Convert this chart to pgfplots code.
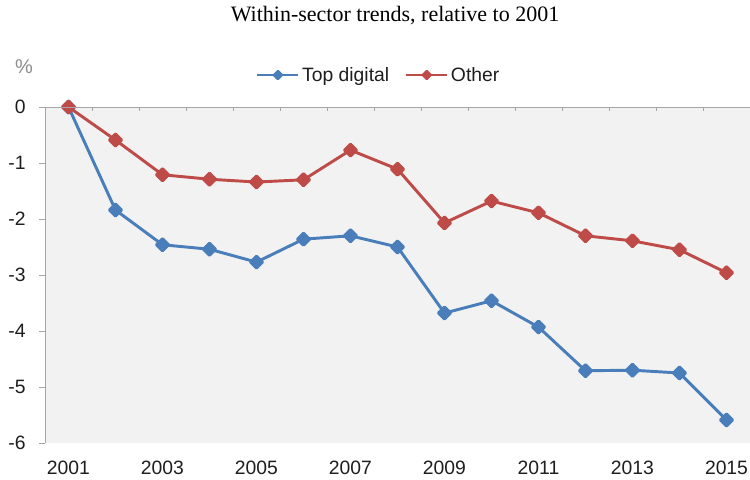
\documentclass[border=0pt]{standalone}
\usepackage{fontspec}
\setmainfont{Liberation Serif}
\newfontfamily\arialfont{Liberation Sans}
\usepackage{pgfplots}
\pgfplotsset{compat=1.18}
\definecolor{cblue}{HTML}{4A7EBB}
\definecolor{cred}{HTML}{BE4B48}
\definecolor{bggray}{HTML}{F2F2F2}
\definecolor{axgray}{HTML}{A6A6A6}
\definecolor{txtgray}{HTML}{1E1E1E}
\definecolor{pctgray}{HTML}{8C8C8C}
\begin{document}
\begin{tikzpicture}
\path[use as bounding box] (-33.75pt,-27pt) rectangle (528.75pt,332.25pt);
\begin{axis}[
  at={(0,0)}, anchor=south west,
  scale only axis, width=528.75pt, height=252pt,
  xmin=2000.5, xmax=2015.5, ymin=-6, ymax=0,
  clip=false,
  axis background/.style={fill=bggray},
  axis line style={draw=none},
  xtick={2001,2003,...,2015},
  ytick={-6,-5,...,0},
  x tick style={draw=none},
  y tick style={draw=axgray, line width=0.6pt},
  tick align=outside,
  major tick length=4.5pt,
  xtick pos=lower, ytick pos=left,
  /pgf/number format/1000 sep={},
  /pgf/number format/assume math mode=true,
  tick label style={font=\arialfont\fontsize{14.5}{16}\selectfont, text=txtgray},
  xticklabel style={yshift=-5.5pt},
  yticklabel style={xshift=-6.5pt},
  title={Within-sector trends, relative to 2001},
  title style={font=\fontsize{16.5}{18}\selectfont, at={(rel axis cs:0.4965,1.2293)}, anchor=base},
  legend style={draw=none, fill=none, at={(rel axis cs:0.474,1.0952)}, anchor=center,
    font=\arialfont\fontsize{14.5}{16}\selectfont, text=txtgray,
    /tikz/every even column/.append style={column sep=10pt}},
  legend columns=2,
  legend image code/.code={\draw[mark repeat=2, mark phase=2, line width=1.6pt, mark size=2.2pt] plot coordinates {(0cm,0cm)(0.54cm,0cm)(1.08cm,0cm)};},
  extra description/.code={
    \draw[axgray, line width=0.7pt] (rel axis cs:0,0) -- (rel axis cs:0,1) -- (rel axis cs:1,1);
    \foreach \i in {1,...,14} \draw[axgray, line width=0.6pt] (rel axis cs:\i/15,1) -- ++(0,-3pt);
    \node[font=\arialfont\fontsize{15}{16}\selectfont, text=pctgray] at (rel axis cs:-0.0298,1.119) {\%};
  },
]
\addplot[cblue, line width=2.2pt, line join=round, mark=square*, mark size=3.2pt, mark options={rotate=45, solid}] coordinates {
(2001,0) (2002,-1.84) (2003,-2.46) (2004,-2.54) (2005,-2.77) (2006,-2.36) (2007,-2.30) (2008,-2.50)
(2009,-3.68) (2010,-3.46) (2011,-3.93) (2012,-4.71) (2013,-4.70) (2014,-4.75) (2015,-5.59)};
\addlegendentry{Top digital}
\addplot[cred, line width=2.2pt, line join=round, mark=square*, mark size=3.2pt, mark options={rotate=45, solid}] coordinates {
(2001,0) (2002,-0.59) (2003,-1.21) (2004,-1.29) (2005,-1.34) (2006,-1.30) (2007,-0.77) (2008,-1.11)
(2009,-2.07) (2010,-1.68) (2011,-1.89) (2012,-2.30) (2013,-2.39) (2014,-2.55) (2015,-2.96)};
\addlegendentry{Other}
\end{axis}
\end{tikzpicture}
\end{document}
